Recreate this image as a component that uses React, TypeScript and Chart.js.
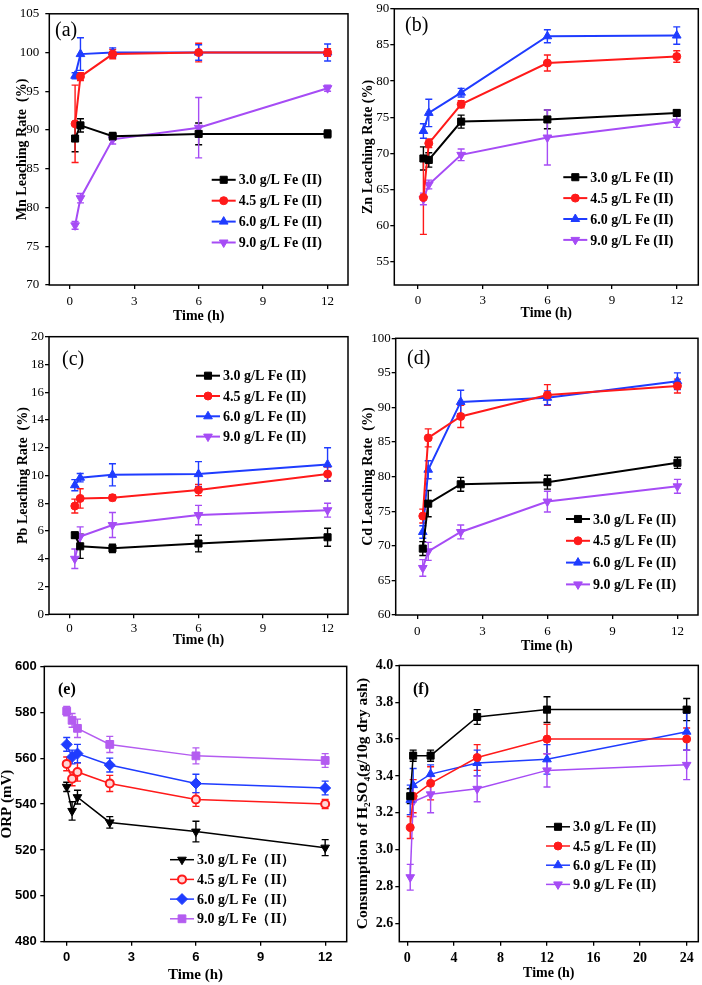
import React, { useEffect, useRef } from 'react';
import { Chart, registerables } from 'chart.js';
import { drawPoint } from 'chart.js/helpers';

Chart.register(...registerables);

// ---------- shared categories ----------
const timesMain = [0.25, 0.5, 2, 6, 12];
const timesOrp = [0, 0.25, 0.5, 2, 6, 12];
const timesAcid = [0.25, 0.5, 2, 6, 12, 24];

const labelsFe = ['3.0 g/L Fe (II)', '4.5 g/L Fe (II)', '6.0 g/L Fe (II)', '9.0 g/L Fe (II)'];
const labelsFeOrp = ['3.0 g/L Fe（II）', '4.5 g/L Fe（II）', '6.0 g/L Fe（II）', '9.0 g/L Fe（II）'];

const xTicks12 = [0, 3, 6, 9, 12];
const xTicks24 = [0, 4, 8, 12, 16, 20, 24];
const yTicksMn = [70, 75, 80, 85, 90, 95, 100, 105];
const yTicksZn = [55, 60, 65, 70, 75, 80, 85, 90];
const yTicksPb = [0, 2, 4, 6, 8, 10, 12, 14, 16, 18, 20];
const yTicksCd = [60, 65, 70, 75, 80, 85, 90, 95, 100];
const yTicksOrp = [480, 500, 520, 540, 560, 580, 600];
const yTicksAcid = [2.6, 2.8, 3.0, 3.2, 3.4, 3.6, 3.8, 4.0];

// ---------- (a) Mn ----------
const mn30 = [88.9, 90.6, 89.2, 89.5, 89.5];
const mn30Err = [1.7, 0.85, 0.5, 1.4, 0.5];
const mn45 = [90.8, 96.9, 99.8, 100.0, 100.0];
const mn45Err = [5.0, 0.5, 0.6, 1.2, 0.5];
const mn60 = [97.0, 99.8, 100.0, 100.0, 100.0];
const mn60Err = [0.4, 2.1, 0.6, 1.0, 1.1];
const mn90 = [77.7, 81.2, 88.8, 90.3, 95.4];
const mn90Err = [0.5, 0.6, 0.6, 3.9, 0.4];

// ---------- (b) Zn ----------
const zn30 = [69.3, 69.1, 74.4, 74.7, 75.6];
const zn30Err = [1.6, 1.0, 0.9, 1.3, 0.4];
const zn45 = [63.9, 71.4, 76.8, 82.5, 83.4];
const zn45Err = [5.1, 0.6, 0.5, 1.1, 0.8];
const zn60 = [73.1, 75.6, 78.4, 86.2, 86.3];
const zn60Err = [1.0, 1.9, 0.6, 0.9, 1.2];
const zn90 = [63.7, 65.7, 69.8, 72.2, 74.4];
const zn90Err = [0.8, 0.6, 0.8, 3.8, 0.8];

// ---------- (c) Pb ----------
const pb30 = [5.7, 4.9, 4.75, 5.1, 5.55];
const pb30Err = [0.2, 0.87, 0.3, 0.6, 0.65];
const pb45 = [7.8, 8.35, 8.4, 8.95, 10.1];
const pb45Err = [0.5, 0.7, 0.2, 0.4, 0.5];
const pb60 = [9.3, 9.84, 10.05, 10.1, 10.8];
const pb60Err = [0.4, 0.3, 0.8, 0.9, 1.2];
const pb90 = [4.0, 5.6, 6.43, 7.15, 7.5];
const pb90Err = [0.7, 0.7, 0.9, 0.7, 0.5];

// ---------- (d) Cd ----------
const cd30 = [69.6, 76.1, 78.9, 79.2, 82.0];
const cd30Err = [1.0, 1.9, 1.0, 1.0, 0.8];
const cd45 = [74.3, 85.6, 88.7, 91.8, 93.1];
const cd45Err = [1.0, 1.3, 1.6, 1.5, 1.0];
const cd60 = [72.0, 81.0, 90.8, 91.4, 93.8];
const cd60Err = [0.9, 1.3, 1.7, 1.0, 1.2];
const cd90 = [66.8, 69.2, 72.0, 76.4, 78.6];
const cd90Err = [1.2, 1.3, 1.0, 1.5, 1.0];

// ---------- (e) ORP ----------
const orp30 = [547.5, 537.0, 543.0, 532.0, 528.0, 521.0];
const orp30Err = [2.0, 4.0, 3.0, 2.5, 4.5, 3.5];
const orp45 = [557.5, 551.0, 554.0, 549.0, 542.0, 540.0];
const orp45Err = [3.0, 3.0, 4.0, 3.5, 3.0, 2.0];
const orp60 = [566.0, 560.5, 562.0, 557.0, 549.0, 547.0];
const orp60Err = [3.0, 3.0, 4.0, 3.0, 4.0, 3.0];
const orp90 = [580.5, 576.5, 573.0, 566.0, 561.0, 559.0];
const orp90Err = [2.0, 3.0, 4.0, 3.5, 3.5, 3.0];

// ---------- (f) H2SO4 consumption ----------
const acid30 = [3.29, 3.51, 3.51, 3.72, 3.76, 3.76];
const acid30Err = [0.04, 0.03, 0.03, 0.04, 0.07, 0.06];
const acid45 = [3.12, 3.29, 3.36, 3.50, 3.60, 3.60];
const acid45Err = [0.06, 0.09, 0.09, 0.07, 0.08, 0.06];
const acid60 = [3.27, 3.35, 3.41, 3.47, 3.49, 3.64];
const acid60Err = [0.08, 0.09, 0.05, 0.07, 0.08, 0.10];
const acid90 = [2.85, 3.26, 3.30, 3.33, 3.43, 3.46];
const acid90Err = [0.07, 0.08, 0.10, 0.07, 0.09, 0.08];

// ---------- styles ----------
const SERIF = "'Liberation Serif', 'Times New Roman', serif";
const SANS = "'Liberation Sans', Arial, sans-serif";
const BLACK = '#000000';
const RED = '#ff1a1a';
const BLUE = '#1f3cff';
const PURPLE = '#a64cf5';
const PURPLE_E = '#b45cf0';

type Series = {
  label: string;
  values: number[];
  errors: number[];
  color: string;
  bg?: string;
  style: string;
  rotation?: number;
  radius: number;
};

type Panel = {
  key: string;
  left: number; top: number; width: number; height: number;
  area: { l: number; t: number; r: number; b: number };
  times: number[];
  xMin: number; xMax: number; xTicks: number[];
  yMin: number; yMax: number; yTicks: number[]; yDec: number;
  series: Series[];
  yTitle: string; yTitleX: number; xTitleOffset: number;
  tickFont: { family: string; size: number; weight: string };
  titleFont: { family: string; size: number; weight: string };
  yTitleFont?: { family: string; size: number; weight: string };
  legendFont: string;
  tag: string; tagFont: string; tagX: number; tagY: number;
  legX: number; legY: number; legDy: number;
  lineWidth: number;
  xPad: number; yPad: number;
};

const std4 = (labels: string[], vals: number[][], errs: number[][]): Series[] => [
  { label: labels[0], values: vals[0], errors: errs[0], color: BLACK, style: 'rect', radius: 5 },
  { label: labels[1], values: vals[1], errors: errs[1], color: RED, style: 'circle', radius: 4 },
  { label: labels[2], values: vals[2], errors: errs[2], color: BLUE, style: 'triangle', radius: 5 },
  { label: labels[3], values: vals[3], errors: errs[3], color: PURPLE, style: 'triangle', rotation: 180, radius: 5 },
];

const tickSerif = { family: SERIF, size: 13, weight: 'normal' };
const titleSerif = { family: SERIF, size: 14, weight: 'bold' };
const legendSerif = `bold 14px ${SERIF}`;

const panels: Panel[] = [
  {
    key: 'a', left: 0, top: 0, width: 350, height: 325,
    area: { l: 49.3, t: 7.3, r: 348, b: 285 },
    times: timesMain, xMin: -0.95, xMax: 12.95, xTicks: xTicks12,
    yMin: 70, yMax: 105, yTicks: yTicksMn, yDec: 0,
    series: std4(labelsFe, [mn30, mn45, mn60, mn90], [mn30Err, mn45Err, mn60Err, mn90Err]),
    yTitle: 'Mn Leaching Rate  (%)', yTitleX: 22, xTitleOffset: 8.3,
    tickFont: tickSerif, titleFont: titleSerif, legendFont: legendSerif,
    tag: '(a)', tagFont: `20px ${SERIF}`, tagX: 5.7, tagY: 16.7,
    legX: 162.4, legY: 166, legDy: 20.9, lineWidth: 2, xPad: 5, yPad: 6,
  },
  {
    key: 'b', left: 350, top: 0, width: 352, height: 325,
    area: { l: 394.3, t: 7.3, r: 698.3, b: 285 },
    times: timesMain, xMin: -1.1, xMax: 13.0, xTicks: xTicks12,
    yMin: 51.8, yMax: 90, yTicks: yTicksZn, yDec: 0,
    series: std4(labelsFe, [zn30, zn45, zn60, zn90], [zn30Err, zn45Err, zn60Err, zn90Err]),
    yTitle: 'Zn Leaching Rate (%)', yTitleX: 18, xTitleOffset: 11.7,
    tickFont: tickSerif, titleFont: titleSerif, legendFont: legendSerif,
    tag: '(b)', tagFont: `20px ${SERIF}`, tagX: 10.7, tagY: 16.7,
    legX: 169, legY: 168.4, legDy: 20.9, lineWidth: 2, xPad: 4, yPad: 1,
  },
  {
    key: 'c', left: 0, top: 325, width: 350, height: 330,
    area: { l: 49, t: 336.7, r: 348, b: 614.3 },
    times: timesMain, xMin: -0.95, xMax: 12.95, xTicks: xTicks12,
    yMin: 0, yMax: 20, yTicks: yTicksPb, yDec: 0,
    series: std4(labelsFe, [pb30, pb45, pb60, pb90], [pb30Err, pb45Err, pb60Err, pb90Err]),
    yTitle: 'Pb Leaching Rate  (%)', yTitleX: 23, xTitleOffset: 15,
    tickFont: tickSerif, titleFont: titleSerif, legendFont: legendSerif,
    tag: '(c)', tagFont: `20px ${SERIF}`, tagX: 13, tagY: 23.3,
    legX: 147, legY: 39, legDy: 20.3, lineWidth: 2, xPad: 2, yPad: 1,
  },
  {
    key: 'd', left: 350, top: 325, width: 352, height: 330,
    area: { l: 395.7, t: 338.3, r: 698, b: 615 },
    times: timesMain, xMin: -1.0, xMax: 12.95, xTicks: xTicks12,
    yMin: 60, yMax: 100, yTicks: yTicksCd, yDec: 0,
    series: std4(labelsFe, [cd30, cd45, cd60, cd90], [cd30Err, cd45Err, cd60Err, cd90Err]),
    yTitle: 'Cd Leaching Rate  (%)', yTitleX: 18, xTitleOffset: 8.3,
    tickFont: tickSerif, titleFont: titleSerif, legendFont: legendSerif,
    tag: '(d)', tagFont: `20px ${SERIF}`, tagX: 11.3, tagY: 20.7,
    legX: 170.3, legY: 180.7, legDy: 21.8, lineWidth: 2, xPad: 5, yPad: 1,
  },
  {
    key: 'e', left: 0, top: 655, width: 350, height: 330,
    area: { l: 44.3, t: 665, r: 346.7, b: 941.7 },
    times: timesOrp, xMin: -1.04, xMax: 13, xTicks: xTicks12,
    yMin: 480, yMax: 600, yTicks: yTicksOrp, yDec: 0,
    series: [
      { label: labelsFeOrp[0], values: orp30, errors: orp30Err, color: BLACK, style: 'triangle', rotation: 180, radius: 5 },
      { label: labelsFeOrp[1], values: orp45, errors: orp45Err, color: RED, bg: '#ffd6d6', style: 'circle', radius: 4 },
      { label: labelsFeOrp[2], values: orp60, errors: orp60Err, color: BLUE, style: 'rectRot', radius: 5.5 },
      { label: labelsFeOrp[3], values: orp90, errors: orp90Err, color: PURPLE_E, style: 'rect', radius: 5.5 },
    ],
    yTitle: 'ORP (mV)', yTitleX: 7, xTitleOffset: 10,
    tickFont: { family: SANS, size: 13, weight: 'bold' }, titleFont: { family: SERIF, size: 15, weight: 'bold' },
    legendFont: legendSerif,
    tag: '(e)', tagFont: `bold 16px ${SERIF}`, tagX: 13.7, tagY: 23,
    legX: 125.7, legY: 193.3, legDy: 19.7, lineWidth: 1.5, xPad: 4, yPad: 3.6,
  },
  {
    key: 'f', left: 350, top: 655, width: 352, height: 330,
    area: { l: 399.3, t: 664.3, r: 698.3, b: 941.7 },
    times: timesAcid, xMin: -0.69, xMax: 25, xTicks: xTicks24,
    yMin: 2.5, yMax: 4.0, yTicks: yTicksAcid, yDec: 1,
    series: [
      { label: labelsFe[0], values: acid30, errors: acid30Err, color: BLACK, style: 'rect', radius: 5 },
      { label: labelsFe[1], values: acid45, errors: acid45Err, color: RED, style: 'circle', radius: 4 },
      { label: labelsFe[2], values: acid60, errors: acid60Err, color: BLUE, style: 'triangle', radius: 5 },
      { label: labelsFe[3], values: acid90, errors: acid90Err, color: PURPLE, style: 'triangle', rotation: 180, radius: 5 },
    ],
    yTitle: 'Consumption of H₂SO₄(g/10g dry ash)', yTitleX: 12.7, xTitleOffset: 11.7,
    tickFont: { family: SERIF, size: 14, weight: 'bold' }, titleFont: titleSerif,
    yTitleFont: { family: SERIF, size: 15.5, weight: 'bold' }, legendFont: legendSerif,
    tag: '(f)', tagFont: `bold 16px ${SERIF}`, tagX: 13.7, tagY: 24.7,
    legX: 146.7, legY: 161.4, legDy: 19.2, lineWidth: 1.5, xPad: 4, yPad: 2,
  },
];

function PanelChart({ cfg }: { cfg: Panel }) {
  const ref = useRef<HTMLCanvasElement>(null);

  useEffect(() => {
    const c = cfg;
    const canvas = ref.current;
    if (!canvas) return;
    const tickLen = 4;
    const yTF = c.yTitleFont ?? c.titleFont;
    const xTitleLH = c.titleFont.size * 1.2;
    const yTitleLH = yTF.size * 1.2;

    const decor = {
      id: 'decor_' + c.key,
      beforeDatasetsDraw(chart: any) {
        const ctx = chart.ctx;
        const ys = chart.scales.y;
        ctx.save();
        chart.data.datasets.forEach((ds: any, i: number) => {
          const meta = chart.getDatasetMeta(i);
          ctx.strokeStyle = ds.borderColor;
          ctx.lineWidth = 1.4;
          meta.data.forEach((pt: any, j: number) => {
            const v = ds.data[j].y;
            const e = ds.errors[j];
            const y1 = ys.getPixelForValue(v + e);
            const y2 = ys.getPixelForValue(v - e);
            const x = pt.x;
            ctx.beginPath();
            ctx.moveTo(x, y1); ctx.lineTo(x, y2);
            ctx.moveTo(x - 3.5, y1); ctx.lineTo(x + 3.5, y1);
            ctx.moveTo(x - 3.5, y2); ctx.lineTo(x + 3.5, y2);
            ctx.stroke();
          });
        });
        ctx.restore();
      },
      afterDatasetsDraw(chart: any) {
        const ctx = chart.ctx;
        const a = chart.chartArea;
        ctx.save();
        ctx.strokeStyle = '#000';
        ctx.lineWidth = 1.5;
        ctx.strokeRect(a.left, a.top, a.right - a.left, a.bottom - a.top);
        ctx.fillStyle = '#000';
        ctx.font = c.tagFont;
        ctx.textAlign = 'left';
        ctx.textBaseline = 'middle';
        ctx.fillText(c.tag, a.left + c.tagX, a.top + c.tagY);
        c.series.forEach((s, i) => {
          const x0 = a.left + c.legX;
          const y = a.top + c.legY + i * c.legDy;
          ctx.strokeStyle = s.color;
          ctx.lineWidth = c.lineWidth;
          ctx.beginPath();
          ctx.moveTo(x0, y); ctx.lineTo(x0 + 24, y);
          ctx.stroke();
          ctx.fillStyle = s.bg ?? s.color;
          ctx.strokeStyle = s.color;
          ctx.lineWidth = s.bg ? 2 : 1;
          drawPoint(ctx, { pointStyle: s.style as any, rotation: s.rotation ?? 0, radius: s.radius, borderWidth: ctx.lineWidth }, x0 + 12, y);
          ctx.fillStyle = '#000';
          ctx.font = c.legendFont;
          ctx.textAlign = 'left';
          ctx.textBaseline = 'middle';
          ctx.fillText(s.label, x0 + 27, y + 1);
        });
        ctx.restore();
      },
    };

    const chart = new Chart(canvas, {
      type: 'line',
      data: {
        datasets: c.series.map((s) => ({
          label: s.label,
          data: c.times.map((t, i) => ({ x: t, y: s.values[i] })),
          errors: s.errors,
          borderColor: s.color,
          backgroundColor: s.bg ?? s.color,
          pointBackgroundColor: s.bg ?? s.color,
          pointBorderColor: s.color,
          pointBorderWidth: s.bg ? 2 : 1,
          pointStyle: s.style,
          pointRotation: s.rotation ?? 0,
          pointRadius: s.radius,
          borderWidth: c.lineWidth,
          tension: 0,
          fill: false,
        })) as any,
      },
      options: {
        responsive: false,
        maintainAspectRatio: false,
        animation: false,
        devicePixelRatio: 1,
        layout: {
          autoPadding: false,
          padding: { left: 0, top: c.area.t - c.top, right: c.left + c.width - c.area.r, bottom: 0 },
        },
        plugins: { legend: { display: false }, tooltip: { enabled: false } },
        scales: {
          x: {
            type: 'linear',
            min: c.xMin,
            max: c.xMax,
            afterBuildTicks: (s: any) => { s.ticks = c.xTicks.map((v) => ({ value: v })); },
            afterFit: (s: any) => { s.height = c.top + c.height - c.area.b; },
            grid: { display: true, drawOnChartArea: false, drawTicks: true, tickLength: tickLen, color: '#000', lineWidth: 1.3 },
            border: { display: false },
            ticks: { color: '#000', font: c.tickFont as any, padding: c.xPad, maxRotation: 0, autoSkip: false },
            title: {
              display: true, text: 'Time (h)', color: '#000', font: c.titleFont as any,
              padding: { top: 0, bottom: c.xTitleOffset - xTitleLH / 2 },
            },
          },
          y: {
            type: 'linear',
            min: c.yMin,
            max: c.yMax,
            afterBuildTicks: (s: any) => { s.ticks = c.yTicks.map((v) => ({ value: v })); },
            afterFit: (s: any) => { s.width = c.area.l - c.left; },
            grid: { display: true, drawOnChartArea: false, drawTicks: true, tickLength: tickLen, color: '#000', lineWidth: 1.3 },
            border: { display: false },
            ticks: {
              color: '#000', font: c.tickFont as any, padding: c.yPad, autoSkip: false,
              callback: (v: any) => Number(v).toFixed(c.yDec),
            },
            title: {
              display: true, text: c.yTitle, color: '#000', font: yTF as any,
              padding: { top: c.yTitleX - yTitleLH / 2, bottom: 0 },
            },
          },
        },
      } as any,
      plugins: [decor],
    });
    return () => chart.destroy();
  }, [cfg]);

  return (
    <canvas
      ref={ref}
      width={cfg.width}
      height={cfg.height}
      style={{ position: 'absolute', left: cfg.left, top: cfg.top, width: cfg.width, height: cfg.height }}
    />
  );
}

export default function App() {
  return (
    <div style={{ position: 'absolute', left: 0, top: 0, width: 702, height: 985, background: '#fff' }}>
      {panels.map((p) => (
        <PanelChart key={p.key} cfg={p} />
      ))}
    </div>
  );
}
